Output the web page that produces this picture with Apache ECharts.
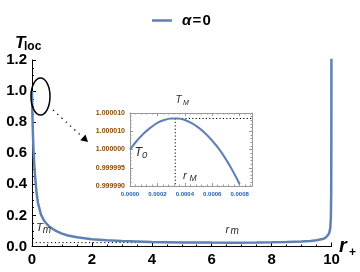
<!DOCTYPE html>
<html><head><meta charset="utf-8">
<script src="https://cdn.jsdelivr.net/npm/echarts@6/dist/echarts.min.js"></script>
<style>html,body{margin:0;padding:0;background:#fff}#c{width:360px;height:272px}</style>
</head><body><div id="c"></div>
<script>
// ---- data ----
const rPlus = [0, 0.01, 0.02, 0.03, 0.05, 0.075, 0.1, 0.15, 0.2, 0.3, 0.4, 0.5, 0.6, 0.8, 1.0, 1.2, 1.5, 2, 2.5, 3, 4, 5, 6, 6.7, 7.5, 8, 8.5, 9, 9.3, 9.5, 9.7, 9.8, 9.85, 9.9, 9.93, 9.96, 9.98, 9.99, 9.995, 9.998];
const tLoc  = [1.0, 0.89, 0.80, 0.73, 0.62, 0.53, 0.46, 0.35, 0.28, 0.205, 0.168, 0.143, 0.125, 0.1, 0.083, 0.071, 0.059, 0.047, 0.04, 0.035, 0.029, 0.026, 0.025, 0.0248, 0.0255, 0.027, 0.029, 0.032, 0.036, 0.04, 0.048, 0.056, 0.064, 0.078, 0.092, 0.12, 0.19, 0.35, 0.7, 1.3];
const insetR = [0, 0.00005, 0.0001, 0.00015, 0.0002, 0.00025, 0.0003, 0.00035, 0.0004, 0.00045, 0.0005, 0.00055, 0.0006, 0.00065, 0.0007, 0.00075, 0.0008];
const insetT = [1.0000000, 1.0000024, 1.0000044, 1.0000060, 1.0000073, 1.0000081, 1.0000085, 1.0000085, 1.0000081, 1.0000072, 1.0000060, 1.0000044, 1.0000024, 1.0000001, 0.9999973, 0.9999941, 0.9999905];
const mainXLabels = ['0', '2', '4', '6', '8', '10'];
const mainYLabels = ['0.0', '0.2', '0.4', '0.6', '0.8', '1.0', '1.2'];
const insetXLabels = ['0.0000', '0.0002', '0.0004', '0.0006', '0.0008'];
const insetYLabels = ['0.999990', '0.999995', '1.000000', '1.000010', '1.000010'];
const Tm = 0.025, rm = 6.7;          // local minimum
const TM = 1.0000085, rM = 0.00033;  // local maximum (inset)
const seriesName = 'α\u200A=\u200A0';

// ---- build ----
const FONT = 'Liberation Sans';
const BLUE = '#5E81B5';
const dev = t => Math.round((t - 1) * 1e7) / 10; // micro-units for the inset scale
const mainData = rPlus.map((r, i) => [r, tLoc[i]]);
const insetData = insetR.map((r, i) => [r, dev(insetT[i])]);
const INSET_XMAX = 0.00089;

const chart = echarts.init(document.getElementById('c'), null, {renderer: 'canvas'});

const mainTick = {inside: true, length: 4, lineStyle: {color: '#000', width: 1}};
const mainMinor = {show: true, splitNumber: 4, length: 2, lineStyle: {color: '#000', width: 1}};
const insetLine = {show: true, onZero: false, lineStyle: {color: '#999', width: 1}};
const insetTick = {inside: true, length: 3, lineStyle: {color: '#999', width: 1}};
const insetMinor = {show: true, splitNumber: 5, length: 1.5, lineStyle: {color: '#999', width: 1}};

function subLabel(x, y, main, sub, f1, f2, dx, dy, color) {
  return [
    {type: 'text', x: x, y: y, z: 50, style: {text: main, font: 'italic ' + f1 + 'px ' + FONT, fill: color, verticalAlign: 'middle', align: 'left'}},
    {type: 'text', x: x + dx, y: y + dy, z: 50, style: {text: sub, font: 'italic ' + f2 + 'px ' + FONT, fill: color, verticalAlign: 'middle', align: 'left'}}
  ];
}

const graphics = [].concat(
  // axis names
  [{type: 'text', x: 15, y: 43.5, style: {text: 'T', font: 'italic bold 17px ' + FONT, fill: '#000', verticalAlign: 'middle'}},
   {type: 'text', x: 24, y: 47, style: {text: 'loc', font: 'bold 12px ' + FONT, fill: '#000', verticalAlign: 'middle'}},
   {type: 'text', x: 339, y: 246.5, style: {text: 'r', font: 'italic bold 20px ' + FONT, fill: '#000', verticalAlign: 'middle'}},
   {type: 'text', x: 349, y: 252.5, style: {text: '+', font: 'bold 12px ' + FONT, fill: '#000', verticalAlign: 'middle'}}],
  // annotation labels
  subLabel(175.5, 100.3, 'T', 'M', 10, 7, 7.5, 3, '#2b2b2b'),
  subLabel(134.5, 152.5, 'T', '0', 12.5, 9.5, 7.5, 3, '#2b2b2b'),
  subLabel(183, 176, 'r', 'M', 11.5, 8.5, 6.5, 3, '#2b2b2b'),
  subLabel(36, 227.5, 'T', 'm', 11.5, 10, 6.8, 2.3, '#2b2b2b'),
  subLabel(225.5, 230, 'r', 'm', 11, 10, 5, 1.5, '#2b2b2b'),
  // ellipse and arrow
  [{type: 'ellipse', shape: {cx: 40.5, cy: 96.5, rx: 9.5, ry: 18.5}, z: 40, style: {fill: 'none', stroke: '#000', lineWidth: 1.5}},
   {type: 'line', shape: {x1: 53, y1: 110, x2: 83, y2: 137.5}, z: 40, style: {stroke: '#000', lineWidth: 1.3, lineDash: [1.3, 4.5]}},
   {type: 'polygon', shape: {points: [[88, 142], [80.3, 140.2], [85.5, 134.4]]}, z: 40, style: {fill: '#000'}}]
);

const option = {
  animation: false,
  backgroundColor: '#fff',
  legend: {
    data: [{name: seriesName, icon: 'rect'}], left: 147, top: 8, itemWidth: 20, itemHeight: 2.5, itemGap: 10,
    formatter: n => '{a|' + n.charAt(0) + '}{b|' + n.slice(1) + '}',
    textStyle: {rich: {
      a: {fontFamily: FONT, fontSize: 15, fontWeight: 'bold', fontStyle: 'italic', color: '#000', padding: [0, 0, 0, 5]},
      b: {fontFamily: FONT, fontSize: 15, fontWeight: 'bold', color: '#000'}
    }}
  },
  grid: [
    {left: 32, right: 28.5, top: 60, bottom: 25.5, containLabel: false},
    {left: 130, right: 108, top: 113, bottom: 86, containLabel: false}
  ],
  xAxis: [
    {gridIndex: 0, type: 'value', min: 0, max: 10, interval: 2,
     axisLine: {show: true, onZero: false, lineStyle: {color: '#000', width: 1}},
     axisTick: mainTick, minorTick: mainMinor, splitLine: {show: false}, minorSplitLine: {show: false},
     axisLabel: {color: '#000', fontSize: 15, fontWeight: 'bold', fontFamily: FONT, margin: 6,
                 formatter: v => mainXLabels[Math.round(v / 2)]}},
    {gridIndex: 1, type: 'value', position: 'bottom', min: 0, max: INSET_XMAX, interval: 0.0002,
     axisLine: insetLine, axisTick: insetTick, minorTick: insetMinor, splitLine: {show: false},
     axisLabel: {color: '#2060b0', fontSize: 6, fontWeight: 'bold', fontFamily: FONT, margin: 5, showMaxLabel: false,
                 formatter: v => { const k = v / 0.0002; const i = Math.round(k); return (Math.abs(k - i) < 1e-6 && i < insetXLabels.length) ? insetXLabels[i] : ''; }}},
    {gridIndex: 1, type: 'value', position: 'top', min: 0, max: INSET_XMAX, interval: 0.0002,
     axisLine: insetLine, axisTick: insetTick, minorTick: insetMinor, splitLine: {show: false},
     axisLabel: {show: false}}
  ],
  yAxis: [
    {gridIndex: 0, type: 'value', min: 0, max: 1.2, interval: 0.2,
     axisLine: {show: true, onZero: false, lineStyle: {color: '#000', width: 1}},
     axisTick: mainTick, minorTick: mainMinor, splitLine: {show: false},
     axisLabel: {color: '#000', fontSize: 15, fontWeight: 'bold', fontFamily: FONT, margin: 5,
                 formatter: v => mainYLabels[Math.round(v / 0.2)]}},
    {gridIndex: 1, type: 'value', position: 'left', min: -10, max: 10, interval: 5,
     axisLine: insetLine, axisTick: insetTick, minorTick: insetMinor, splitLine: {show: false},
     axisLabel: {color: '#8a4b08', fontSize: 7, fontWeight: 'bold', fontFamily: FONT, margin: 5,
                 formatter: v => insetYLabels[Math.round((v + 10) / 5)]}},
    {gridIndex: 1, type: 'value', position: 'right', min: -10, max: 10, interval: 5,
     axisLine: insetLine, axisTick: insetTick, minorTick: insetMinor, splitLine: {show: false},
     axisLabel: {show: false}}
  ],
  series: [
    {name: seriesName, type: 'line', xAxisIndex: 0, yAxisIndex: 0, data: mainData, symbol: 'none',
     lineStyle: {color: BLUE, width: 2.5}, itemStyle: {color: BLUE}, z: 5},
    {type: 'line', xAxisIndex: 0, yAxisIndex: 0, data: [[0, Tm], [rm, Tm]], symbol: 'none',
     lineStyle: {color: '#000', width: 1, type: [1.2, 2.6]}, z: 3},
    {type: 'line', xAxisIndex: 0, yAxisIndex: 0, data: [[rm, Tm], [rm, 0]], symbol: 'none',
     lineStyle: {color: '#000', width: 1, type: [1.2, 2.6]}, z: 3},
    {type: 'line', xAxisIndex: 1, yAxisIndex: 1, data: insetData, symbol: 'none', smooth: 0.3,
     lineStyle: {color: BLUE, width: 2}, z: 5},
    {type: 'line', xAxisIndex: 1, yAxisIndex: 1, data: [[rM, dev(TM)], [INSET_XMAX, dev(TM)]], symbol: 'none',
     lineStyle: {color: '#000', width: 1, type: [1.2, 2.2]}, z: 3},
    {type: 'line', xAxisIndex: 1, yAxisIndex: 1, data: [[rM, dev(TM)], [rM, -10]], symbol: 'none',
     lineStyle: {color: '#000', width: 1, type: [1.2, 2.2]}, z: 3}
  ],
  graphic: graphics
};
chart.setOption(option);
</script>
</body></html>
